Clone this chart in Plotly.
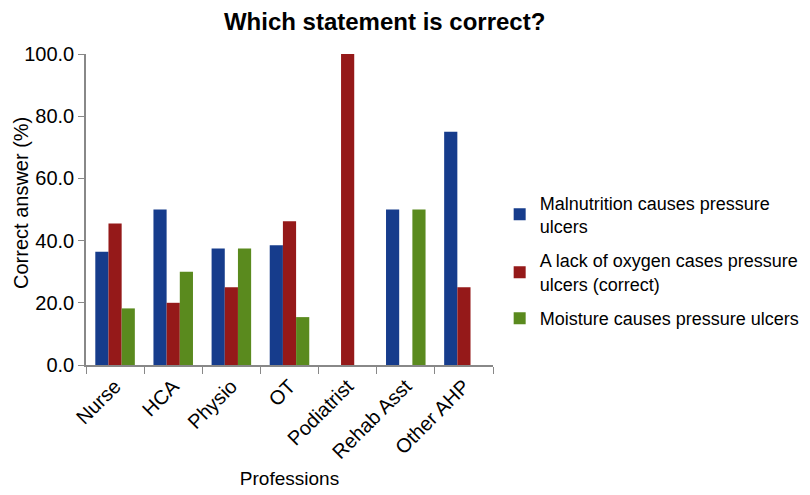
import plotly.graph_objects as go

professions = ["Nurse", "HCA", "Physio", "OT", "Podiatrist", "Rehab Asst", "Other AHP"]
malnutrition = [36.4, 50.0, 37.5, 38.5, 0.0, 50.0, 75.0]
lack_of_oxygen = [45.5, 20.0, 25.0, 46.2, 100.0, 0.0, 25.0]
moisture = [18.2, 30.0, 37.5, 15.4, 0.0, 50.0, 0.0]

series_names = [
    "Malnutrition causes pressure<br>ulcers",
    "A lack of oxygen cases pressure<br>ulcers (correct)",
    "Moisture causes pressure ulcers",
]
colours = ["#163c8c", "#951919", "#5a8a1e"]

fig = go.Figure()
for i, (name, vals, col) in enumerate(zip(series_names, [malnutrition, lack_of_oxygen, moisture], colours)):
    fig.add_trace(go.Bar(x=professions, y=vals, name=name, marker_color=col,
                         marker_line_width=0, legendgroup=f"g{i}"))

# y-axis title as an annotation so it can sit closer to the page edge
fig.add_annotation(text="Correct answer (%)", textangle=-90, showarrow=False,
                   xref="paper", yref="paper", x=-0.158, y=0.52,
                   xanchor="center", yanchor="middle", font=dict(size=20))

fig.update_layout(
    title=dict(text="<b>Which statement is correct?</b>", xref="container", x=0.465,
               xanchor="center", yref="container", y=0.972, yanchor="middle",
               font=dict(size=24, color="#000")),
    font=dict(family="Liberation Sans, Arial, sans-serif", size=20, color="#000"),
    width=810, height=495,
    plot_bgcolor="white", paper_bgcolor="white",
    barmode="group", bargap=0.32, bargroupgap=0,
    margin=dict(l=78, r=325, t=46, b=138),
    xaxis=dict(
        showline=True, linecolor="#888", linewidth=1.5,
        ticks="outside", tickson="boundaries", ticklen=7, tickcolor="#888",
        tickangle=-45, title=dict(text="Professions", standoff=10, font=dict(size=19)),
        showgrid=False, automargin=False,
    ),
    yaxis=dict(
        range=[0, 100], dtick=20, tickformat=".1f",
        showline=True, linecolor="#888", linewidth=1.5,
        ticks="outside", ticklen=6, tickcolor="#888",
        showgrid=False, zeroline=False, automargin=False,
    ),
    legend=dict(xref="container", yref="container", x=0.607, y=0.49,
                xanchor="left", yanchor="middle", traceorder="grouped",
                font=dict(size=18), tracegroupgap=8, itemwidth=30),
)

fig.write_html("out.html")
